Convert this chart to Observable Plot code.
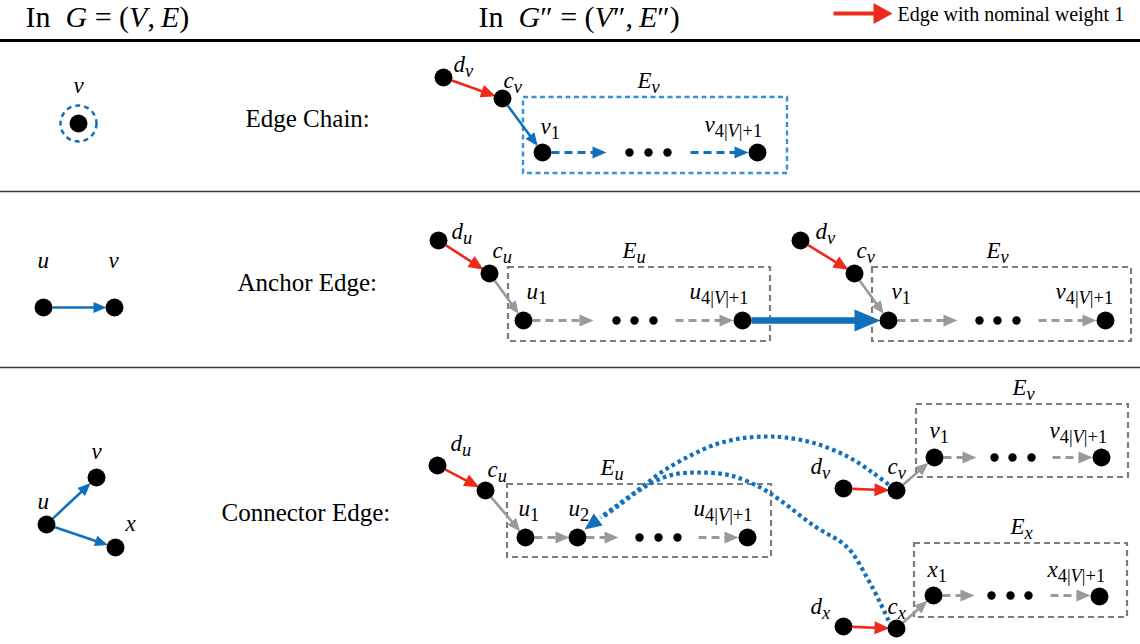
<!DOCTYPE html>
<html>
<head>
<meta charset="utf-8">
<script src="https://cdn.jsdelivr.net/npm/d3@7"></script>
<script src="https://cdn.jsdelivr.net/npm/@observablehq/plot@0.6"></script>
<style>
  html,body{margin:0;padding:0;background:#fff;}
  #chart svg{display:block;}
</style>
</head>
<body>
<div id="chart"></div>
<script>
const SERIF = "Liberation Serif";
const RED = "#ee2a1b", BLUE = "#1170bb", LBLUE = "#3393d3", GRAY = "#9a9a9a", BOXGRAY = "#7c7c7c";

// ---- nodes (diagram coordinates) ----
const nodes = [
  {id:"r1v", x:78, y:123},
  {id:"r1dv", x:443, y:77}, {id:"r1cv", x:502, y:98}, {id:"r1v1", x:542, y:152}, {id:"r1vn", x:757, y:152},
  {id:"r2u", x:43, y:307}, {id:"r2v", x:114, y:307},
  {id:"r2du", x:438, y:240}, {id:"r2cu", x:489, y:273}, {id:"r2u1", x:523, y:320}, {id:"r2un", x:742, y:320},
  {id:"r2dv", x:800, y:240}, {id:"r2cv", x:854, y:273}, {id:"r2v1", x:888, y:320}, {id:"r2vn", x:1105, y:320},
  {id:"r3u", x:46, y:524}, {id:"r3v", x:96, y:477}, {id:"r3x", x:115, y:547},
  {id:"r3du", x:437, y:465}, {id:"r3cu", x:485, y:490}, {id:"r3u1", x:525, y:537}, {id:"r3u2", x:577, y:537}, {id:"r3un", x:747, y:537},
  {id:"r3dv", x:843, y:488}, {id:"r3cv", x:896, y:490}, {id:"r3v1", x:934, y:457}, {id:"r3vn", x:1101, y:457},
  {id:"r3dx", x:843, y:626}, {id:"r3cx", x:896, y:628}, {id:"r3x1", x:933, y:595}, {id:"r3xn", x:1099, y:596}
];
const rings = [{x:78, y:123}];
const ellipsisDots = [
  {x:629,y:152},{x:648,y:152},{x:667,y:152},
  {x:616,y:320},{x:634,y:320},{x:653,y:320},
  {x:979,y:320},{x:997,y:320},{x:1016,y:320},
  {x:639,y:537},{x:658,y:537},{x:677,y:537},
  {x:994,y:457},{x:1012,y:457},{x:1031,y:457},
  {x:991,y:595},{x:1010,y:595},{x:1028,y:595}
];
// edges between nodes: [from, to, kind]
const edges = [
  ["r1dv","r1cv","red"], ["r1cv","r1v1","blue"],
  ["r2u","r2v","blue"], ["r2du","r2cu","red"], ["r2cu","r2u1","gray"], ["r2un","r2v1","thick"],
  ["r2dv","r2cv","red"], ["r2cv","r2v1","gray"],
  ["r3u","r3v","blue"], ["r3u","r3x","blue"], ["r3du","r3cu","red"], ["r3cu","r3u1","gray"],
  ["r3u1","r3u2","grayDash"], ["r3dv","r3cv","red"], ["r3cv","r3v1","gray"],
  ["r3dx","r3cx","red"], ["r3cx","r3x1","gray"]
];
// dashed chain stubs towards / from the ellipsis
const stubs = [
  {x1:551, x2:606, y:152, kind:"blueDash"}, {x1:690, x2:748, y:152, kind:"blueDash"},
  {x1:532, x2:593, y:320, kind:"grayDash"}, {x1:675, x2:733, y:320, kind:"grayDash"},
  {x1:897, x2:957, y:320, kind:"grayDash"}, {x1:1038, x2:1096, y:320, kind:"grayDash"},
  {x1:586, x2:618, y:537, kind:"grayDash"}, {x1:698, x2:738, y:537, kind:"grayDash"},
  {x1:943, x2:976, y:457, kind:"grayDash"}, {x1:1052, x2:1092, y:457, kind:"grayDash"},
  {x1:942, x2:974, y:595, kind:"grayDash"}, {x1:1050, x2:1090, y:595, kind:"grayDash"}
];
const boxes = [
  {x1:523, y1:97, x2:787, y2:173, kind:"blue"},
  {x1:508, y1:267, x2:770, y2:341, kind:"gray"}, {x1:872, y1:267, x2:1131, y2:341, kind:"gray"},
  {x1:507, y1:484, x2:771, y2:557, kind:"gray"}, {x1:916, y1:404, x2:1128, y2:477, kind:"gray"},
  {x1:914, y1:543, x2:1127, y2:617, kind:"gray"}
];
// dotted connector curves
const curveUpper = [[888,484],[872,472],[847,456],[815,443],[785,437],[765,436],[740,438],[715,444],[690,455],[662,471],[637,490],[615,506],[600,517]];
const curveLower = [[888,620],[880,603],[867,578],[847,547],[813,525],[780,500],[760,487],[730,475],[700,472],[673,474],[652,482],[637,491],[618,505],[602,517]];
const curveHead = {from:[603,515], tip:[584,529]};
const legendArrow = {x1:833, x2:892, y:13};

const rules = [{y:40, w:3, c:"#000"}, {y:191, w:1.5, c:"#3a3a3a"}, {y:367, w:1.5, c:"#3a3a3a"}];
const headers = [
  {x:25, y:17, t:"$`In`\u00a0\u00a0G\u00a0=\u00a0(V,\u2009E)"},
  {x:478, y:17, t:"$`In`\u00a0\u00a0G\u2033\u00a0=\u00a0(V\u2033,\u2009E\u2033)"}
];
const legendText = [{x:897, y:14, t:"Edge with nominal weight 1"}];
const sections = [
  {x:245, y:118, t:"Edge Chain:"},
  {x:237, y:282, t:"Anchor Edge:"},
  {x:221, y:512, t:"Connector Edge:"}
];
// math labels: x = left edge, y = baseline
const labels = [
  {x:73, y:92, t:"$v"}, {x:453, y:71, t:"$d_v"}, {x:503, y:87, t:"$c_v"}, {x:637, y:87, t:"$E_v"},
  {x:540, y:133, t:"$v_1"}, {x:704, y:131, t:"$v_{4|V|+1}"},
  {x:37, y:267, t:"$u"}, {x:108, y:267, t:"$v"},
  {x:451, y:238, t:"$d_u"}, {x:492, y:257, t:"$c_u"}, {x:622, y:257, t:"$E_u"},
  {x:526, y:298, t:"$u_1"}, {x:689, y:298, t:"$u_{4|V|+1}"},
  {x:815, y:238, t:"$d_v"}, {x:856, y:257, t:"$c_v"}, {x:986, y:257, t:"$E_v"},
  {x:891, y:298, t:"$v_1"}, {x:1055, y:298, t:"$v_{4|V|+1}"},
  {x:91, y:458, t:"$v"}, {x:37, y:508, t:"$u"}, {x:125, y:530, t:"$x"},
  {x:450, y:450, t:"$d_u"}, {x:487, y:476, t:"$c_u"}, {x:600, y:474, t:"$E_u"},
  {x:518, y:515, t:"$u_1"}, {x:568, y:515, t:"$u_2"}, {x:693, y:515, t:"$u_{4|V|+1}"},
  {x:1012, y:394, t:"$E_v"}, {x:929, y:437, t:"$v_1"}, {x:1049, y:437, t:"$v_{4|V|+1}"},
  {x:810, y:473, t:"$d_v"}, {x:887, y:473, t:"$c_v"},
  {x:1010, y:533, t:"$E_x"}, {x:927, y:576, t:"$x_1"}, {x:1047, y:576, t:"$x_{4|V|+1}"},
  {x:810, y:613, t:"$d_x"}, {x:887, y:613, t:"$c_x"}
];

// ---- styles ----
const styles = {
  red:      {stroke:RED,  w:2.6, hl:15, hw:13},
  blue:     {stroke:BLUE, w:2.6, hl:13, hw:11},
  gray:     {stroke:GRAY, w:2.6, hl:13, hw:11},
  thick:    {stroke:BLUE, w:6.5, hl:26, hw:22},
  blueDash: {stroke:BLUE, w:3,   hl:14, hw:12, dash:"8,5"},
  grayDash: {stroke:GRAY, w:3,   hl:14, hw:12, dash:"8,5"},
  legend:   {stroke:RED,  w:4,   hl:19, hw:21},
  curve:    {stroke:BLUE, w:0,   hl:17, hw:15}
};
const R = 9;
const byId = new Map(nodes.map(n => [n.id, n]));
const shafts = [], heads = [];
function addArrow(ax, ay, bx, by, kind, startGap, endGap, id, noShaft) {
  const s = styles[kind];
  const dx = bx - ax, dy = by - ay, L = Math.hypot(dx, dy), ux = dx / L, uy = dy / L;
  const sx = ax + ux * startGap, sy = ay + uy * startGap;
  const tx = bx - ux * endGap, ty = by - uy * endGap;
  const hx = tx - ux * s.hl, hy = ty - uy * s.hl;
  if (!noShaft) shafts.push({kind, x1:sx, y1:sy, x2:hx + ux, y2:hy + uy});
  heads.push({kind, id, pts:[[tx, ty], [hx - uy * s.hw / 2, hy + ux * s.hw / 2], [hx + uy * s.hw / 2, hy - ux * s.hw / 2]]});
}
edges.forEach(([a, b, k], i) => {
  const A = byId.get(a), B = byId.get(b);
  addArrow(A.x, A.y, B.x, B.y, k, R, k === "red" ? R - 2 : R - 1, "e" + i);
});
stubs.forEach((s, i) => addArrow(s.x1, s.y, s.x2, s.y, s.kind, 0, 0, "s" + i));
addArrow(legendArrow.x1, legendArrow.y, legendArrow.x2, legendArrow.y, "legend", 0, 0, "lg");
addArrow(curveHead.from[0], curveHead.from[1], curveHead.tip[0], curveHead.tip[1], "curve", 0, 0, "ch", true);
const headPts = heads.flatMap(h => h.pts.map(([x, y]) => ({id:h.id, kind:h.kind, x, y})));
const curvePts = [
  ...curveUpper.map(([x, y]) => ({id:"up", x, y})),
  ...curveLower.map(([x, y]) => ({id:"lo", x, y}))
];

// ---- marks ----
const marks = [];
rules.forEach(r => marks.push(Plot.ruleY([r], {y:"y", stroke:r.c, strokeWidth:r.w})));
marks.push(Plot.rect(boxes.filter(d => d.kind === "blue"), {x1:"x1", y1:"y1", x2:"x2", y2:"y2", fill:"none", stroke:LBLUE, strokeWidth:2.4, strokeDasharray:"5,3.5"}));
marks.push(Plot.rect(boxes.filter(d => d.kind === "gray"), {x1:"x1", y1:"y1", x2:"x2", y2:"y2", fill:"none", stroke:BOXGRAY, strokeWidth:2.2, strokeDasharray:"6,4"}));
marks.push(Plot.dot(rings, {x:"x", y:"y", r:18, fill:"none", stroke:BLUE, strokeWidth:2.5, strokeDasharray:"5,4"}));
marks.push(Plot.line(curvePts, {x:"x", y:"y", z:"id", stroke:BLUE, strokeWidth:4.2, strokeDasharray:"3.6,3.4", strokeLinecap:"butt", strokeLinejoin:"miter", curve:"catmull-rom"}));
for (const k of Object.keys(styles)) {
  const st = styles[k];
  const sh = shafts.filter(d => d.kind === k);
  if (sh.length) marks.push(Plot.link(sh, {x1:"x1", y1:"y1", x2:"x2", y2:"y2", stroke:st.stroke, strokeWidth:st.w, strokeDasharray:st.dash, strokeLinecap:"butt"}));
  const hp = headPts.filter(d => d.kind === k);
  if (hp.length) marks.push(Plot.line(hp, {x:"x", y:"y", z:"id", fill:st.stroke, stroke:"none", curve:"linear-closed"}));
}
marks.push(Plot.dot(nodes, {x:"x", y:"y", r:R, fill:"#000"}));
marks.push(Plot.dot(ellipsisDots, {x:"x", y:"y", r:4.2, fill:"#000"}));
const tx = {x:"x", y:"y", text:"t", textAnchor:"start", fill:"#000", fontFamily:SERIF};
marks.push(Plot.text(headers, {...tx, fontSize:30}));
marks.push(Plot.text(legendText, {...tx, fontSize:20}));
marks.push(Plot.text(sections, {...tx, fontSize:25}));
marks.push(Plot.text(labels, {...tx, fontSize:23, dy:-0.32 * 23}));

const plot = Plot.plot({
  width:1140, height:644, margin:0,
  x:{domain:[0, 1140], range:[0, 1140], axis:null},
  y:{domain:[0, 644], range:[0, 644], axis:null},
  style:{background:"#fff", overflow:"visible"},
  marks
});
document.getElementById("chart").appendChild(plot);

// rich text: italic letters and subscripts
function mathify(el) {
  const raw = el.textContent.slice(1);
  const size = parseFloat(getComputedStyle(el).fontSize);
  const sub = size * 0.8, shift = size * 0.22;
  const runs = [];
  let i = 0, upright = false;
  const push = (c, isSub) => {
    const ital = !upright && /[A-Za-z]/.test(c);
    const last = runs[runs.length - 1];
    if (last && last.sub === isSub && last.ital === ital) last.t += c;
    else runs.push({t:c, sub:isSub, ital});
  };
  while (i < raw.length) {
    const c = raw[i];
    if (c === "`") { upright = !upright; i++; continue; }
    if (c === "_") {
      let g;
      if (raw[i + 1] === "{") { const j = raw.indexOf("}", i); g = raw.slice(i + 2, j); i = j + 1; }
      else { g = raw[i + 1]; i += 2; }
      for (const ch of g) push(ch, true);
      continue;
    }
    push(c, false); i++;
  }
  el.textContent = "";
  let cur = false;
  for (const r of runs) {
    const t = document.createElementNS("http://www.w3.org/2000/svg", "tspan");
    t.textContent = r.t;
    t.setAttribute("font-style", r.ital ? "italic" : "normal");
    t.setAttribute("font-size", r.sub ? sub : size);
    if (r.sub !== cur) { t.setAttribute("dy", r.sub ? shift : -shift); cur = r.sub; }
    el.appendChild(t);
  }
}
d3.select(plot).selectAll("text").each(function() {
  if (this.textContent.startsWith("$")) mathify(this);
});
</script>
</body>
</html>
